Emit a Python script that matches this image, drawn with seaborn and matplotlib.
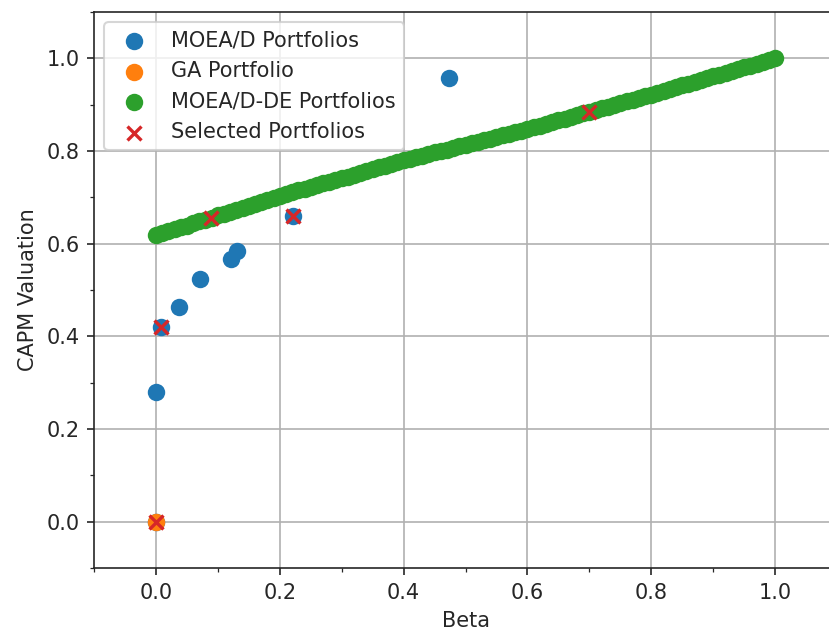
import numpy as np
import pandas as pd
import seaborn as sns
import matplotlib.pyplot as plt
from matplotlib.ticker import MultipleLocator

# MOEA/D portfolios (beta, CAPM valuation)
moead_beta = [0.0, 0.0, 0.008, 0.037, 0.071, 0.121, 0.131, 0.221, 0.473]
moead_capm = [0.0, 0.28, 0.42, 0.463, 0.523, 0.568, 0.584, 0.66, 0.958]

# GA portfolio
ga_beta = [0.0]
ga_capm = [0.0]

# MOEA/D-DE portfolios
de_beta = [0.00, 0.01, 0.02, 0.03, 0.04, 0.05, 0.06, 0.07, 0.08, 0.09,
           0.10, 0.11, 0.12, 0.13, 0.14, 0.15, 0.16, 0.17, 0.18, 0.19,
           0.20, 0.21, 0.22, 0.23, 0.24, 0.25, 0.26, 0.27, 0.28, 0.29,
           0.30, 0.31, 0.32, 0.33, 0.34, 0.35, 0.36, 0.37, 0.38, 0.39,
           0.40, 0.41, 0.42, 0.43, 0.44, 0.45, 0.46, 0.47, 0.48, 0.49,
           0.50, 0.51, 0.52, 0.53, 0.54, 0.55, 0.56, 0.57, 0.58, 0.59,
           0.60, 0.61, 0.62, 0.63, 0.64, 0.65, 0.66, 0.67, 0.68, 0.69,
           0.70, 0.71, 0.72, 0.73, 0.74, 0.75, 0.76, 0.77, 0.78, 0.79,
           0.80, 0.81, 0.82, 0.83, 0.84, 0.85, 0.86, 0.87, 0.88, 0.89,
           0.90, 0.91, 0.92, 0.93, 0.94, 0.95, 0.96, 0.97, 0.98, 0.99, 1.00]
de_capm = [0.618, 0.622, 0.627, 0.631, 0.635, 0.639, 0.644, 0.648, 0.652, 0.656,
           0.661, 0.665, 0.669, 0.673, 0.678, 0.682, 0.686, 0.690, 0.695, 0.699,
           0.703, 0.707, 0.711, 0.715, 0.718, 0.722, 0.726, 0.730, 0.734, 0.738,
           0.742, 0.745, 0.749, 0.753, 0.757, 0.761, 0.765, 0.768, 0.772, 0.776,
           0.780, 0.783, 0.787, 0.790, 0.793, 0.797, 0.800, 0.803, 0.807, 0.810,
           0.814, 0.817, 0.820, 0.824, 0.827, 0.830, 0.834, 0.837, 0.840, 0.844,
           0.847, 0.851, 0.855, 0.858, 0.862, 0.866, 0.870, 0.873, 0.877, 0.881,
           0.885, 0.888, 0.892, 0.896, 0.900, 0.903, 0.907, 0.911, 0.915, 0.918,
           0.922, 0.926, 0.930, 0.934, 0.938, 0.942, 0.945, 0.949, 0.953, 0.957,
           0.961, 0.965, 0.969, 0.973, 0.977, 0.981, 0.984, 0.988, 0.992, 0.996, 1.000]

# Selected portfolios
sel_beta = [0.0, 0.008, 0.089, 0.221, 0.70]
sel_capm = [0.0, 0.42, 0.655, 0.66, 0.885]

plt.rcParams["text.color"] = "#262626"
plt.rcParams["axes.labelcolor"] = "#262626"
plt.rcParams["xtick.color"] = "#262626"
plt.rcParams["ytick.color"] = "#262626"
plt.rcParams["axes.edgecolor"] = "#262626"

fig = plt.figure(figsize=(829 / 150, 630 / 150), dpi=150)
ax = fig.add_axes([0.1134, 0.0984, 0.8963, 0.8825])

sns.scatterplot(x=moead_beta, y=moead_capm, color="#1f77b4", s=70, linewidth=0,
                label="MOEA/D Portfolios", ax=ax, zorder=2)
sns.scatterplot(x=ga_beta, y=ga_capm, color="#ff7f0e", s=70, linewidth=0,
                label="GA Portfolio", ax=ax, zorder=2)
sns.scatterplot(x=de_beta, y=de_capm, color="#2ca02c", s=70, linewidth=0,
                label="MOEA/D-DE Portfolios", ax=ax, zorder=2)
ax.scatter(sel_beta, sel_capm, color="#d62728", marker="x", s=45, linewidths=1.6,
           label="Selected Portfolios", zorder=3)

ax.set_xlim(-0.1, 1.1)
ax.set_ylim(-0.1, 1.1)
ax.xaxis.set_major_locator(MultipleLocator(0.2))
ax.yaxis.set_major_locator(MultipleLocator(0.2))
ax.xaxis.set_minor_locator(MultipleLocator(0.1))
ax.yaxis.set_minor_locator(MultipleLocator(0.1))
ax.grid(True, which="major", color="#b0b0b0", linewidth=0.8)
ax.set_axisbelow(True)
ax.set_xlabel("Beta")
ax.set_ylabel("CAPM Valuation")
ax.legend(loc="upper left")

fig.savefig("out.png", dpi=150)
